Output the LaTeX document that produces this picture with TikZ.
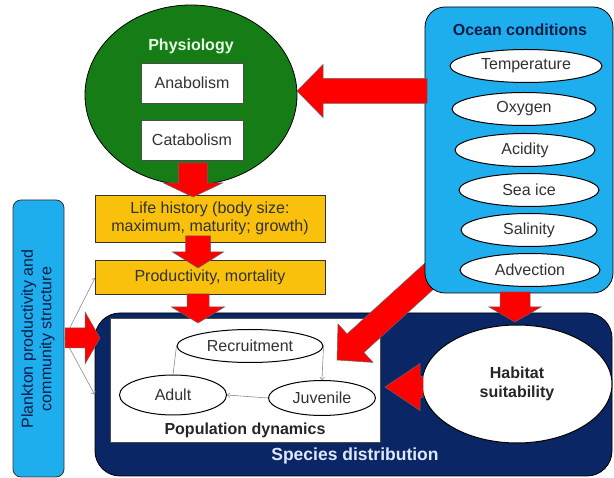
\documentclass[tikz,border=0pt]{standalone}
\usepackage{fontspec}
\setmainfont{Liberation Sans}
\usetikzlibrary{shapes.geometric,calc,arrows.meta}
\definecolor{physgreen}{RGB}{22,124,22}
\definecolor{boxyellow}{RGB}{249,193,12}
\definecolor{skyblue}{RGB}{30,174,238}
\definecolor{navyfill}{RGB}{10,38,100}
\definecolor{txtgray}{RGB}{50,50,50}
\definecolor{titlenavy}{RGB}{12,28,70}
\definecolor{sdtext}{RGB}{220,232,255}
\definecolor{arrowred}{RGB}{255,0,0}
% #1 shaft half width, #2 head half width, #3 head length, #4 from, #5 to
\newcommand\blockarr[5]{%
  \path ($(#5)!#3!(#4)$) coordinate (bah);
  \filldraw[fill=arrowred, draw=black!60, line width=0.5pt]
    ($(#4)!#1!90:(#5)$) -- ($(bah)!#1!-90:(#4)$) -- ($(bah)!#2!-90:(#4)$) -- (#5)
    -- ($(bah)!#2!90:(#4)$) -- ($(bah)!#1!90:(#4)$) -- ($(#4)!#1!-90:(#5)$) -- cycle;}
\tikzset{
  oval/.style={ellipse, draw=black, line width=1pt, fill=white, inner sep=0pt, text=txtgray},
  whitebox/.style={rectangle, draw=black!70, fill=white, inner sep=0pt, text=txtgray},
  ybox/.style={rectangle, draw=black!80, line width=0.8pt, fill=boxyellow, inner sep=0pt, text=txtgray, align=center},
  thinarrow/.style={draw=black!45, line width=0.6pt, -{To[length=3pt,width=5pt]}},
  thinline/.style={draw=black!45, line width=0.6pt},
  boldtxt/.style={font=\bfseries\fontsize{16}{18}\selectfont},
}
\begin{document}
\begin{tikzpicture}[x=1pt, y=-1pt, font=\fontsize{16}{18}\selectfont]
\useasboundingbox[fill=white] (0,0) rectangle (614,478);

% Plankton box
\node[rectangle, rounded corners=8pt, draw=black!80, line width=0.8pt, fill=skyblue, minimum width=51pt, minimum height=277pt, inner sep=0pt] (plank) at (38.5,338.5) {};
\node[rotate=90, font=\fontsize{16}{18.5}\selectfont, text=titlenavy, align=center] (planktxt) at (38,339) {Plankton productivity and\\community structure};

% Species distribution
\node[rectangle, rounded corners=25pt, draw=black, line width=0.8pt, fill=navyfill, minimum width=517pt, minimum height=163pt, inner sep=0pt] (spec) at (353.5,394.5) {};
\node[boldtxt, font=\bfseries\fontsize{17.5}{20}\selectfont, text=sdtext] (spectxt) at (355,456) {Species distribution};

% thin lines from plankton
\draw[thinarrow] (plank.east) -- (95,278) coordinate (pt1);
\draw[thinarrow] (plank.east) -- (spec.west);

% Population dynamics box
\node[whitebox, minimum width=270pt, minimum height=124pt] (popbox) at (245,380) {};
\node[oval, minimum width=146pt, minimum height=33pt] (recruit) at (250,346) {Recruitment};
\node[oval, minimum width=107pt, minimum height=40pt] (adult) at (173,395) {Adult};
\node[oval, minimum width=107pt, minimum height=35pt] (juv) at (322,398) {Juvenile};
\node[boldtxt, text=black!85] (poptxt) at (245,430) {Population dynamics};
\draw[thinarrow] (recruit.east) -- (juv.north);
\draw[thinarrow] (juv.west) -- (adult.east);
\draw[thinline] (adult.north) -- (recruit.west);

% Habitat suitability
\node[oval, minimum width=190pt, minimum height=118pt, align=center, font=\bfseries\fontsize{16}{19}\selectfont, text=black!85] (hab) at (517,384) {Habitat\\suitability};

% diagonal arrow (under ocean box)
\coordinate (d1) at (436,270);
\coordinate (d2) at (337,360);
\blockarr{12.5pt}{26pt}{25pt}{d1}{d2}

% Ocean conditions
\node[rectangle, rounded corners=20pt, draw=black, line width=0.8pt, fill=skyblue, minimum width=188pt, minimum height=286pt, inner sep=0pt] (ocean) at (519,150) {};
\node[boldtxt, text=titlenavy] (oceantxt) at (520,30) {Ocean conditions};
\node[oval, minimum width=152pt, minimum height=33pt] (temp) at (526,66) {Temperature};
\node[oval, minimum width=144pt, minimum height=33pt] (oxy) at (524,109) {Oxygen};
\node[oval, minimum width=140pt, minimum height=33pt] (acid) at (525,150) {Acidity};
\node[oval, minimum width=140pt, minimum height=33pt] (ice) at (529,190) {Sea ice};
\node[oval, minimum width=136pt, minimum height=33pt] (sal) at (529,230) {Salinity};
\node[oval, minimum width=140pt, minimum height=33pt] (adv) at (530,270) {Advection};

% Physiology
\node[ellipse, draw=black, line width=0.8pt, fill=physgreen, minimum width=212pt, minimum height=180pt, inner sep=0pt] (phys) at (191,95) {};
\node[boldtxt, text=white!90!green] (phystxt) at (191,46) {Physiology};
\node[whitebox, minimum width=102pt, minimum height=40pt] (ana) at (192,83) {Anabolism};
\node[whitebox, minimum width=102pt, minimum height=40pt] (cat) at (192,140) {Catabolism};

% Yellow boxes
\node[ybox, minimum width=230pt, minimum height=47pt] (life) at (210,218.5) {Life history (body size:\\maximum, maturity; growth)};
\node[ybox, minimum width=230pt, minimum height=34pt] (prod) at (210,277) {Productivity, mortality};

% Red block arrows
\coordinate (a1s) at (193,163); \coordinate (a1e) at (193,197);
\blockarr{14.5pt}{29.5pt}{14pt}{a1s}{a1e}
\coordinate (a2s) at (198,236); \coordinate (a2e) at (198,268);
\blockarr{12.5pt}{25.5pt}{16pt}{a2s}{a2e}
\coordinate (a3s) at (198,294); \coordinate (a3e) at (198,323);
\blockarr{11pt}{26.5pt}{16pt}{a3s}{a3e}
\coordinate (a4s) at (427,91); \coordinate (a4e) at (297,91);
\blockarr{12.5pt}{26.5pt}{26pt}{a4s}{a4e}
\coordinate (a5s) at (515,292); \coordinate (a5e) at (515,322);
\blockarr{15pt}{26pt}{15pt}{a5s}{a5e}
\coordinate (a6s) at (423,387); \coordinate (a6e) at (385,387);
\blockarr{10.5pt}{23.5pt}{35pt}{a6s}{a6e}
\coordinate (a7s) at (65,338); \coordinate (a7e) at (100,338);
\blockarr{10pt}{26pt}{15pt}{a7s}{a7e}
\end{tikzpicture}
\end{document}
